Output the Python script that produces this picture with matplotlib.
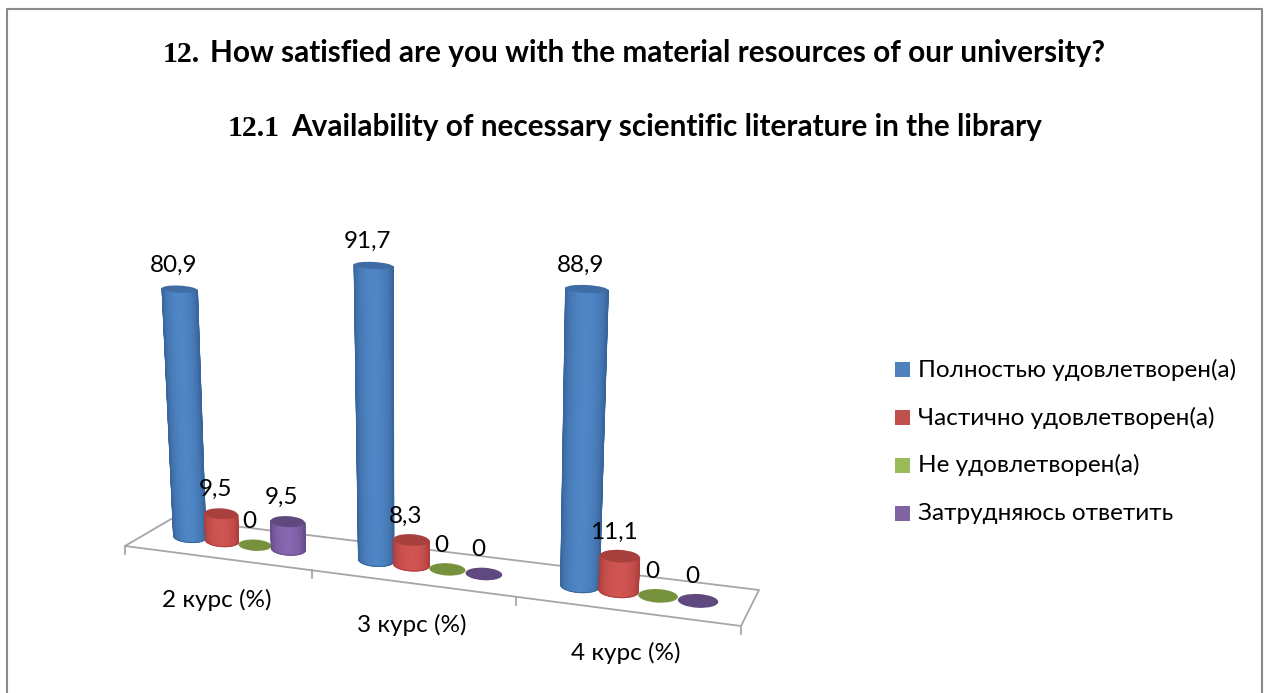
"""3D-style cylinder chart: satisfaction with library literature, by course year."""

import matplotlib

matplotlib.use("Agg")
import matplotlib.pyplot as plt
import numpy as np
from matplotlib.colors import LinearSegmentedColormap
from matplotlib.patches import Ellipse, Rectangle

categories = ["2 курс (%)", "3 курс (%)", "4 курс (%)"]
series_names = [
    "Полностью удовлетворен(а)",
    "Частично удовлетворен(а)",
    "Не удовлетворен(а)",
    "Затрудняюсь ответить",
]
full = [80.9, 91.7, 88.9]
partly = [9.5, 8.3, 11.1]
not_sat = [0, 0, 0]
unsure = [9.5, 0, 0]
series_values = [full, partly, not_sat, unsure]

legend_colors = ["#4f81bd", "#c0504d", "#9bbb59", "#8064a2"]
edge_colors = ["#38659c", "#ad3f3c", "#7f9c45", "#674d8a"]
mid_colors = ["#4f86c6", "#d05552", "#9bbb59", "#8667b0"]
top_colors = ["#3e6ca3", "#a8403e", "#76923c", "#5f497f"]

W, H = 1267, 693
GRAY = "#a6a6a6"
BAR_W = 0.18

# floor corners in pixels: front-left, front-right, back-right, back-left
src = np.array([[0, 0], [3, 0], [3, 1], [0, 1]], float)
dst = np.array([[125, 546], [741, 626], [759, 590], [172, 518.5]], float)
A, b = [], []
for (u, v), (x, y) in zip(src, dst):
    A.append([u, v, 1, 0, 0, 0, -u * x, -v * x])
    A.append([0, 0, 0, u, v, 1, -u * y, -v * y])
    b += [x, y]
hom = np.append(np.linalg.solve(np.array(A), np.array(b)), 1).reshape(3, 3)


def floor(u, v):
    p = hom @ np.array([u, v, 1.0])
    return p[0] / p[2], p[1] / p[2]


def lift(x, y, value):
    # verticals spread apart upwards, and the scale grows to the right
    scale = (2.72 + 0.0006 * x) * (1 + 0.001 * value)
    lean = 0.00052 * (x - 428) * value
    return x + lean, y - scale * value


def draw_cylinder(ax, u, value, idx, z):
    bx, by = floor(u, 0.5)
    x0, y0 = floor(u - BAR_W / 2, 0.5)
    x1, y1 = floor(u + BAR_W / 2, 0.5)
    width = x1 - x0
    angle = 0.45 * np.degrees(np.arctan((y1 - y0) / (x1 - x0)))
    tilt = np.tan(np.radians(angle))
    tx, ty = lift(bx, by, value)
    top_w = width * (1 + 0.0012 * value)
    base_h = width * 0.34
    top_h = top_w * (0.34 - 0.0017 * value)

    if value > 0:
        theta = np.linspace(-np.pi / 2, np.pi / 2, 41)
        s, c = np.sin(theta), np.cos(theta)
        xs = np.vstack([bx + width / 2 * s, tx + top_w / 2 * s])
        ys = np.vstack([
            by + base_h / 2 * c + tilt * width / 2 * s,
            ty + top_h / 2 * c + tilt * top_w / 2 * s,
        ])
        shade = np.vstack([c ** 1.4, c ** 1.4])
        cmap = LinearSegmentedColormap.from_list("cyl", [edge_colors[idx], mid_colors[idx]])
        ax.pcolormesh(xs, ys, shade, shading="gouraud", cmap=cmap, vmin=0, vmax=1, zorder=z)
        # gouraud edges come out jagged, so trace the outline
        ax.plot(xs[:, 0], ys[:, 0], color=edge_colors[idx], lw=0.9, zorder=z)
        ax.plot(xs[:, -1], ys[:, -1], color=edge_colors[idx], lw=0.9, zorder=z)
        ax.plot(xs[0], ys[0], color=edge_colors[idx], lw=0.7, zorder=z)
    ax.add_patch(Ellipse((tx, ty), top_w, top_h, angle=angle, facecolor=top_colors[idx], edgecolor="none", zorder=z + 0.1))
    label = "0" if value == 0 else f"{value}".replace(".", ",")
    ax.text(tx - 6, ty - 24, label, ha="center", va="center", fontsize=17.5, family="Lato", color="black", zorder=50)


fig = plt.figure(figsize=(W / 100, H / 100), dpi=100)
ax = fig.add_axes([0, 0, 1, 1])

# outer frame, bottom edge is cut off in the source
ax.plot([7, 7, 1262, 1262], [H, 9, 9, H], color="#8a8a8a", lw=1.5, zorder=1)

# titles: numbers are in a serif face
ax.text(163, 62, "12.", family="Liberation Serif", weight="bold", fontsize=21.4, va="baseline")
ax.text(210, 62, "How satisfied are you with the material resources of our university?", family="Lato", weight="bold", fontsize=21.4, va="baseline")
ax.text(228, 136, "12.1", family="Liberation Serif", weight="bold", fontsize=21.4, va="baseline")
ax.text(291, 136, "Availability of necessary scientific literature in the library", family="Lato", weight="bold", fontsize=21.4, va="baseline")

# floor
corners = [floor(u, v) for u, v in src] + [floor(0, 0)]
ax.plot(*zip(*corners), color=GRAY, lw=1.3, zorder=2)
for i in range(len(categories) + 1):
    x, y = floor(i, 0)
    ax.plot([x, x], [y, y + 8], color=GRAY, lw=1.3, zorder=2)

for i, cat in enumerate(categories):
    x, y = floor(i + 0.5, 0)
    ax.text(x, y + 42, cat, ha="center", va="center", fontsize=17.5, family="Lato", color="black")

z = 10
for i in range(len(categories)):
    for j, vals in enumerate(series_values):
        draw_cylinder(ax, i + 0.5 + (j - 1.5) * BAR_W, vals[i], j, z)
        z += 1

# legend
legend_y = [369.5, 417.5, 465, 513.5]
for name, col, y in zip(series_names, legend_colors, legend_y):
    ax.add_patch(Rectangle((895, y - 7.5), 15, 15, facecolor=col, edgecolor="none"))
    ax.text(918, y, name, va="center", ha="left", fontsize=17.5, family="Lato", color="black")

ax.set_xlim(0, W)
ax.set_ylim(H, 0)
ax.axis("off")

fig.savefig("out.png", dpi=100)
